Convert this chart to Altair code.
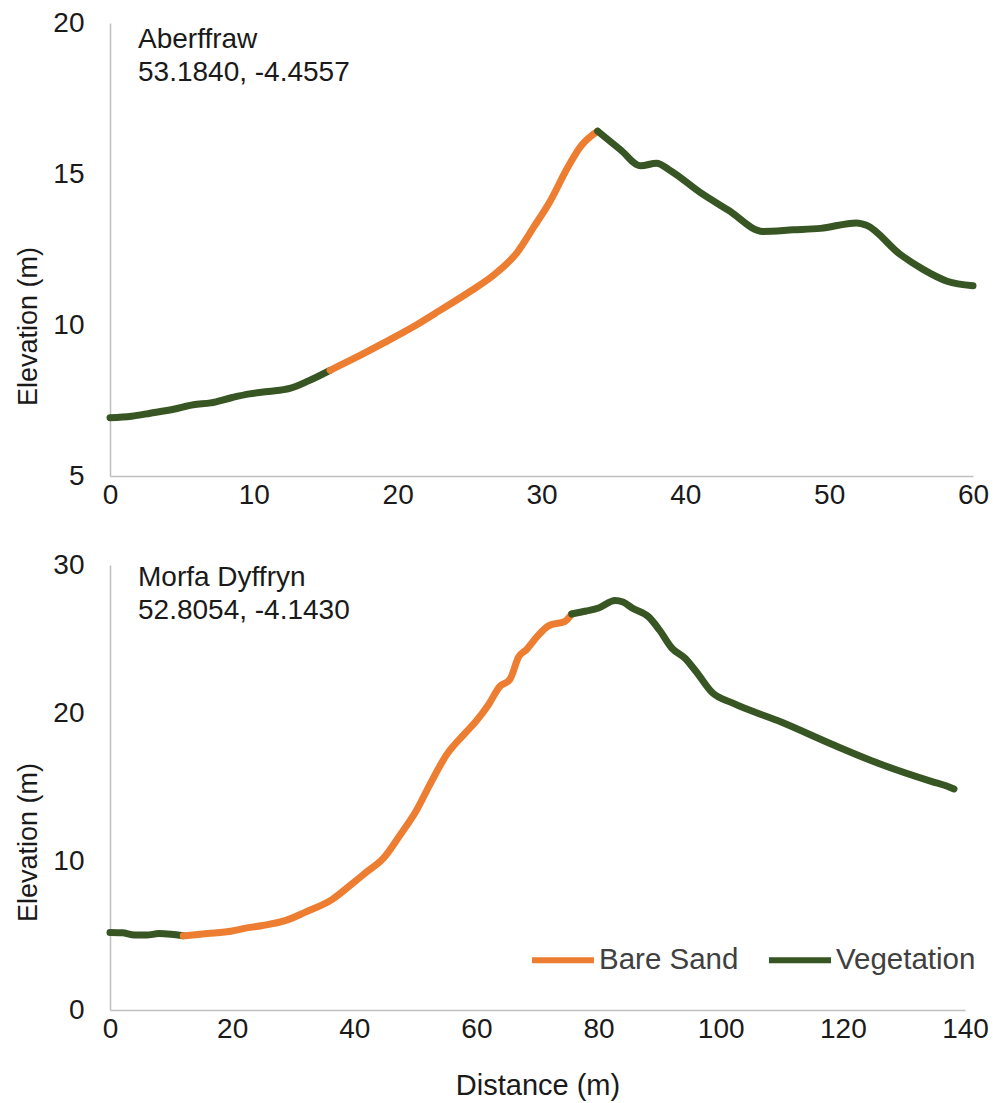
import altair as alt
import pandas as pd

# ---- Aberffraw profile ----
a_veg1_x = [0, 1.5, 2.8, 4.5, 5.8, 7, 8.5, 9.7, 11, 12.5, 13.8, 15.3]
a_veg1_y = [6.93, 6.98, 7.08, 7.22, 7.36, 7.42, 7.6, 7.72, 7.8, 7.9, 8.15, 8.5]
a_sand_x = [15.3, 17, 19, 21.3, 23, 25, 26.8, 28.3, 29.4, 30.6, 31.8, 32.7, 33.9]
a_sand_y = [8.5, 8.9, 9.4, 10.0, 10.5, 11.1, 11.7, 12.4, 13.2, 14.1, 15.2, 15.9, 16.42]
a_veg2_x = [33.9, 35.5, 36.9, 38.0, 39, 41.0, 43, 45.4, 47.5, 49.4, 51.9, 52.6, 54.9, 56.5, 58.2, 60]
a_veg2_y = [16.42, 15.8, 15.27, 15.36, 15.1, 14.4, 13.8, 13.1, 13.15, 13.2, 13.38, 13.3, 12.35, 11.85, 11.45, 11.3]

# ---- Morfa Dyffryn profile ----
m_veg1_x = [0, 2, 4, 6, 8, 10, 12]
m_veg1_y = [5.22, 5.2, 5.05, 5.05, 5.15, 5.1, 5.0]
m_sand_x = [12, 16, 20, 22, 25, 28.8, 32, 36.4, 39.7, 42, 44.7, 47.5, 50.1, 52.5, 55.1,
            58, 60, 62, 63.8, 65.5, 66.9, 68.2, 70, 71.8, 74.5, 75.6]
m_sand_y = [5.0, 5.15, 5.33, 5.5, 5.7, 6.04, 6.6, 7.46, 8.53, 9.3, 10.2, 11.8, 13.4, 15.3, 17.2,
            18.6, 19.5, 20.6, 21.8, 22.3, 23.8, 24.3, 25.2, 25.9, 26.2, 26.7]
m_veg2_x = [75.6, 78, 80, 82.7, 84, 85.5, 88.2, 90, 92, 94.2, 96, 98.6, 101.9, 110, 118.3,
            126, 134.6, 137, 138.2]
m_veg2_y = [26.7, 26.9, 27.1, 27.6, 27.5, 27.1, 26.5, 25.6, 24.4, 23.7, 22.8, 21.4, 20.7, 19.4,
            17.9, 16.6, 15.4, 15.1, 14.9]

categories = ["Bare Sand", "Vegetation"]
colors = ["#ED7D31", "#375623"]

top_label = ["Aberffraw", "53.1840, -4.4557"]
bottom_label = ["Morfa Dyffryn", "52.8054, -4.1430"]

top_x_ticks = [0, 10, 20, 30, 40, 50, 60]
top_y_ticks = [5, 10, 15, 20]
bot_x_ticks = [0, 20, 40, 60, 80, 100, 120, 140]
bot_y_ticks = [0, 10, 20, 30]

FONT = "Liberation Sans"
TXT = "#1a1a1a"


def frame(segments):
    rows = []
    for seg_id, (xs, ys, kind) in enumerate(segments):
        for i, (x, y) in enumerate(zip(xs, ys)):
            rows.append({"seg": seg_id, "order": i, "x": x, "y": y, "type": kind})
    return pd.DataFrame(rows)


top_df = frame([(a_veg1_x, a_veg1_y, "Vegetation"),
                (a_sand_x, a_sand_y, "Bare Sand"),
                (a_veg2_x, a_veg2_y, "Vegetation")])
bot_df = frame([(m_veg1_x, m_veg1_y, "Vegetation"),
                (m_sand_x, m_sand_y, "Bare Sand"),
                (m_veg2_x, m_veg2_y, "Vegetation")])

axis_common = dict(
    grid=False, ticks=False, domainColor="#BFBFBF", domainWidth=1.5,
    labelFont=FONT, labelFontSize=28, labelColor=TXT, labelFlush=False,
    titleFont=FONT, titleFontWeight="normal", titleColor=TXT,
)


def panel(df, xdom, ydom, xticks, yticks, w, h, label, label_y, legend, xtitle, ytitle_y):
    color_scale = alt.Scale(domain=categories, range=colors)
    if xtitle:
        xaxis = alt.Axis(values=xticks, labelPadding=5, title=xtitle, titleFontSize=29,
                         titlePadding=28, **axis_common)
    else:
        xaxis = alt.Axis(values=xticks, labelPadding=5, title=None, **axis_common)
    lines = alt.Chart(df).mark_line(
        interpolate="monotone", strokeWidth=7, strokeCap="round", strokeJoin="round"
    ).encode(
        x=alt.X("x:Q", scale=alt.Scale(domain=xdom, nice=False, zero=False), axis=xaxis),
        y=alt.Y("y:Q", scale=alt.Scale(domain=ydom, nice=False, zero=False),
                axis=alt.Axis(values=yticks, labelPadding=26, title="Elevation (m)",
                              titleFontSize=27, titlePadding=10, titleY=ytitle_y,
                              **axis_common)),
        color=alt.Color("type:N", scale=color_scale, legend=legend),
        detail="seg:N",
        order="order:Q",
    )
    layers = [lines]
    for i, t in enumerate(label):
        layers.append(
            alt.Chart(pd.DataFrame({"t": [t]})).mark_text(
                align="left", baseline="alphabetic", font=FONT, fontSize=28, color=TXT
            ).encode(x=alt.value(28), y=alt.value(label_y[i]), text="t:N")
        )
    return alt.layer(*layers).properties(width=w, height=h)


legend = alt.Legend(
    orient="none", legendX=419, legendY=361, direction="horizontal", title=None,
    symbolType="stroke", symbolSize=3844, symbolStrokeWidth=6,
    labelFont=FONT, labelFontSize=29.5, labelColor="#404040", labelOffset=2,
    columnPadding=18,
)

top = panel(top_df, [0, 60], [5, 20], top_x_ticks, top_y_ticks, 863, 453,
            top_label, [25, 58], None, None, 303)
bottom = panel(bot_df, [0, 140], [0, 30], bot_x_ticks, bot_y_ticks, 855, 445,
               bottom_label, [21, 54], legend, "Distance (m)", 277)

chart = alt.vconcat(top, bottom, spacing=42).resolve_scale(color="independent").resolve_legend(
    color="independent"
).configure_view(stroke=None).properties(padding={"left": 6, "top": 1, "right": 5, "bottom": 5})

chart.save("out.html", embed_options={"renderer": "svg", "actions": False})
